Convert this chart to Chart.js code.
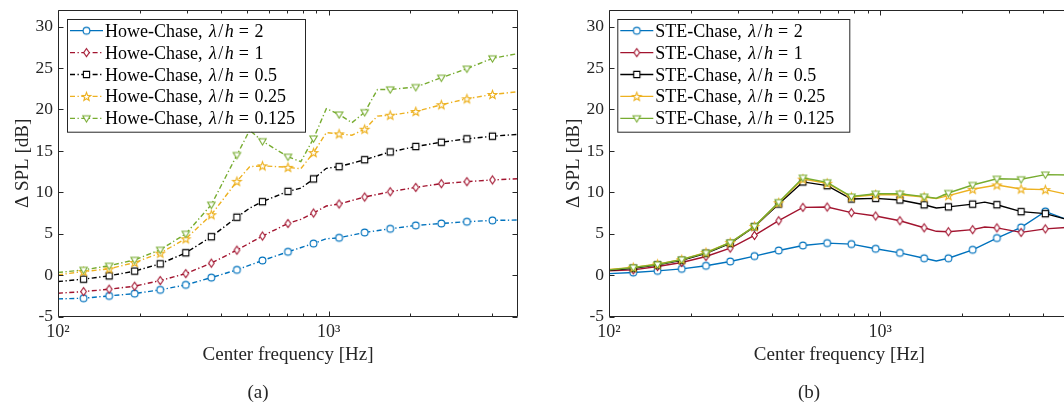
<!DOCTYPE html>
<html>
<head>
<meta charset="utf-8">
<script src="https://cdn.jsdelivr.net/npm/chart.js@4.4.1/dist/chart.umd.min.js"></script>
<style>
  html, body { margin: 0; padding: 0; background: #fff; overflow: hidden; }
  #wrap { position: relative; width: 1064px; height: 406px; overflow: hidden; }
  canvas { position: absolute; top: 0; }
  #chartA { left: 0; }
  #chartB { left: 540px; }
</style>
</head>
<body>
<div id="wrap">
  <canvas id="chartA" width="540" height="406"></canvas>
  <canvas id="chartB" width="540" height="406"></canvas>
</div>
<script>
// centre frequencies [Hz] of the two data grids (markers on every second point)
const freqA = [100, 111.5, 124.3, 138.5, 154.5, 172.2, 191.9, 214, 238.5, 265.9,
  296.4, 330.5, 368.4, 410.7, 457.9, 510.4, 569, 634.3, 707.1, 788.3,
  878.8, 979.6, 1092.1, 1217.5, 1357.3, 1513, 1686.7, 1880.4, 2096.2, 2336.9,
  2605.1, 2904, 3237.5, 3609.1, 4023.5, 4485.3, 5000]
const freqB = [100, 110.8, 122.9, 136.2, 151, 167.3, 185.5, 205.6, 227.9, 252.6,
  280, 310.3, 344, 381.3, 422.6, 468.4, 519.2, 575.5, 637.9, 707.1,
  783.8, 868.8, 963, 1067.4, 1183.2, 1311.4, 1453.6, 1611.3, 1786, 1979.6,
  2194.4, 2432.2, 2696, 2988.3, 3312.4, 3671.6, 4069.7, 4510.9, 5000]

const lambdaLabels = ["2", "1", "0.5", "0.25", "0.125"]

// (a) Howe-Chase, delta SPL [dB]
const howe2 = [-2.85, null, -2.77, null, -2.49, null, -2.21, null, -1.76, null,
  -1.16, null, -0.28, null, 0.65, null, 1.78, null, 2.83, null,
  3.83, 4.4, 4.52, null, 5.16, null, 5.61, null, 6.01, null,
  6.25, null, 6.46, null, 6.62, null, 6.66]
const howe1 = [-2.17, null, -1.97, null, -1.68, null, -1.32, null, -0.64, null,
  0.2, null, 1.46, null, 3.03, null, 4.73, null, 6.25, 6.75,
  7.51, 8.35, 8.6, null, 9.44, null, 10.08, null, 10.6, null,
  11.05, null, 11.29, null, 11.5, null, 11.65]
const howe05 = [-0.76, null, -0.47, null, -0.07, null, 0.5, null, 1.38, null,
  2.71, null, 4.65, null, 7.0, 8.1, 8.88, null, 10.12, 10.5,
  11.62, 12.9, 13.1, null, 13.94, null, 14.88, null, 15.53, null,
  16.05, null, 16.46, null, 16.77, null, 17.0]
const howe025 = [0.05, null, 0.45, null, 0.77, null, 1.54, null, 2.67, null,
  4.4, null, 7.3, null, 11.33, 13.1, 13.2, null, 13.02, 12.85,
  14.8, 17.2, 17.06, 16.9, 17.62, 19.2, 19.31, null, 19.76, null,
  20.57, null, 21.29, null, 21.81, null, 22.14]
const howe0125 = [0.33, null, 0.65, null, 1.14, null, 1.86, null, 3.07, null,
  5.0, null, 8.51, null, 14.5, 17.5, 16.17, null, 14.3, 13.7,
  16.5, 20.1, 19.4, 18.4, 19.67, 22.4, 22.42, null, 22.7, null,
  23.83, null, 24.92, null, 26.17, null, 26.74]

// (b) STE-Chase, delta SPL [dB]
const ste2 = [0.2, null, 0.33, null, 0.53, null, 0.77, null, 1.14, null,
  1.66, null, 2.31, null, 2.99, null, 3.59, null, 3.88, null,
  3.76, null, 3.19, null, 2.7, null, 2.05, 1.72, 2.05, null,
  3.07, null, 4.49, null, 5.77, null, 7.7, null, 6.6]
const ste1 = [0.53, null, 0.65, null, 1.05, null, 1.54, null, 2.26, null,
  3.28, null, 4.8, null, 6.58, null, 8.19, null, 8.23, null,
  7.55, null, 7.15, null, 6.58, null, 5.73, 5.3, 5.25, null,
  5.5, 5.82, 5.72, null, 5.17, null, 5.6, null, 5.8]
const ste05 = [0.6, null, 0.85, null, 1.25, null, 1.8, null, 2.65, null,
  3.85, null, 5.85, null, 8.6, null, 11.26, null, 10.81, null,
  9.2, null, 9.28, null, 9.08, null, 8.5, 8.12, 8.25, null,
  8.58, 8.82, 8.51, null, 7.67, null, 7.43, null, 6.65]
const ste025 = [0.7, null, 0.95, null, 1.35, null, 1.9, null, 2.75, null,
  3.95, null, 5.9, null, 8.75, null, 11.6, null, 11.1, null,
  9.44, null, 9.72, null, 9.72, null, 9.44, 9.24, 9.6, null,
  10.38, null, 10.89, null, 10.41, null, 10.33, null, 9.7]
const ste0125 = [0.65, null, 0.93, null, 1.3, null, 1.9, null, 2.7, null,
  3.95, null, 5.9, null, 8.82, null, 11.77, null, 11.21, null,
  9.5, null, 9.84, null, 9.84, null, 9.48, 9.3, 9.92, null,
  10.89, null, 11.64, null, 11.58, null, 12.14, null, 12.1]

const xMajorTicks = [100, 1000]
const xTickLabels = ["10²", "10³"]
const xMinorTicks = [200, 300, 400, 500, 600, 700, 800, 900, 2000, 3000, 4000]
const yTicks = [-5, 0, 5, 10, 15, 20, 25, 30]

const seriesColors = ["#0072BD", "#A2142F", "#000000", "#EDB120", "#77AC30"]
const markerShapes = ["circle", "diamond", "square", "pentagram", "triangleDown"]
const dashDot = [5, 2.5, 1.3, 2.5]
const axisColor = "#262626"
const serif = '"Liberation Serif", "Times New Roman", serif'
const fontSize = 17.5
const legendFontSize = 18
const titleFontSize = 19
const canvasH = 406
const plotTop = 10
const plotBottom = 316.7

function makeMarker(shape, color) {
  const c = document.createElement("canvas")
  c.width = 13
  c.height = 13
  const g = c.getContext("2d")
  const m = 6.5
  g.strokeStyle = color
  g.fillStyle = "#fff"
  g.lineWidth = 1.1
  g.beginPath()
  if (shape === "circle") {
    g.arc(m, m, 3.4, 0, Math.PI * 2)
  } else if (shape === "square") {
    g.rect(m - 3.1, m - 3.1, 6.2, 6.2)
  } else if (shape === "diamond") {
    g.moveTo(m, m - 4)
    g.lineTo(m + 2.8, m)
    g.lineTo(m, m + 4)
    g.lineTo(m - 2.8, m)
    g.closePath()
  } else if (shape === "pentagram") {
    for (let k = 0; k < 10; k++) {
      const r = k % 2 === 0 ? 4.5 : 1.85
      const a = -Math.PI / 2 + k * Math.PI / 5
      const px = m + r * Math.cos(a)
      const py = m + 0.4 + r * Math.sin(a)
      if (k === 0) g.moveTo(px, py)
      else g.lineTo(px, py)
    }
    g.closePath()
  } else if (shape === "triangleDown") {
    g.moveTo(m - 3.7, m - 2.5)
    g.lineTo(m + 3.7, m - 2.5)
    g.lineTo(m, m + 3.7)
    g.closePath()
  }
  g.fill()
  g.stroke()
  return c
}

const markerImages = seriesColors.map((col, i) => makeMarker(markerShapes[i], col))

function drawLegendLabel(ctx, x, y, prefix, value) {
  const up = `${legendFontSize}px ${serif}`
  const it = `italic ${legendFontSize}px ${serif}`
  ctx.fillStyle = "#000"
  ctx.textAlign = "left"
  ctx.textBaseline = "alphabetic"
  ctx.font = up
  ctx.fillText(prefix + ",", x, y)
  x += ctx.measureText(prefix + ",").width + 6.5
  ctx.font = it
  ctx.fillText("λ", x, y)
  x += ctx.measureText("λ").width + 1.5
  ctx.font = up
  ctx.fillText("/", x, y)
  x += ctx.measureText("/").width + 1.5
  ctx.font = it
  ctx.fillText("h", x, y)
  x += ctx.measureText("h").width + 5
  ctx.font = up
  ctx.fillText("=", x, y)
  x += ctx.measureText("=").width + 5.5
  ctx.fillText(value, x, y)
}

const framePlugin = {
  id: "frame",
  afterDraw(chart, args, opts) {
    const ctx = chart.ctx
    const area = chart.chartArea
    const xs = chart.scales.x
    const ys = chart.scales.y
    const l = Math.round(area.left) + 0.5
    const r = Math.round(area.right) - 0.5
    const t = Math.round(area.top) + 0.5
    const b = Math.round(area.bottom) - 0.5

    ctx.save()
    ctx.strokeStyle = axisColor
    ctx.lineWidth = 1
    ctx.beginPath()
    ctx.rect(l, t, r - l, b - t)
    yTicks.forEach(v => {
      const py = Math.round(ys.getPixelForValue(v)) + 0.5
      ctx.moveTo(l, py); ctx.lineTo(l + 5, py)
      ctx.moveTo(r, py); ctx.lineTo(r - 5, py)
    })
    xMajorTicks.forEach(v => {
      const px = Math.round(xs.getPixelForValue(v)) + 0.5
      ctx.moveTo(px, b); ctx.lineTo(px, b - 5)
      ctx.moveTo(px, t); ctx.lineTo(px, t + 5)
    })
    xMinorTicks.forEach(v => {
      const px = Math.round(xs.getPixelForValue(v)) + 0.5
      ctx.moveTo(px, b); ctx.lineTo(px, b - 3)
      ctx.moveTo(px, t); ctx.lineTo(px, t + 3)
    })
    ctx.stroke()

    // axis titles and sub caption
    ctx.fillStyle = axisColor
    ctx.font = `${titleFontSize}px ${serif}`
    ctx.textAlign = "center"
    ctx.textBaseline = "alphabetic"
    ctx.fillText("Center frequency [Hz]", (area.left + area.right) / 2, 360)
    ctx.fillText(opts.caption, opts.captionX, 398)
    ctx.save()
    ctx.translate(opts.yTitleX, (area.top + area.bottom) / 2)
    ctx.rotate(-Math.PI / 2)
    ctx.fillText("Δ SPL [dB]", 0, 0)
    ctx.restore()

    // legend
    const box = opts.legendBox
    ctx.fillStyle = "#fff"
    ctx.fillRect(box.x, box.y, box.w, box.h)
    ctx.strokeStyle = axisColor
    ctx.lineWidth = 1
    ctx.strokeRect(box.x + 0.5, box.y + 0.5, box.w, box.h)
    lambdaLabels.forEach((lab, i) => {
      const rowY = box.y + 11.7 + i * 21.9
      ctx.strokeStyle = seriesColors[i]
      ctx.lineWidth = 1.3
      ctx.setLineDash(opts.legendDash[i])
      ctx.beginPath()
      ctx.moveTo(box.x + 3, rowY)
      ctx.lineTo(box.x + 36, rowY)
      ctx.stroke()
      ctx.setLineDash([])
      ctx.drawImage(markerImages[i], box.x + 19.5 - 6.5, rowY - 6.5)
      drawLegendLabel(ctx, box.x + 38, rowY + 6, opts.prefix, lab)
    })
    ctx.restore()
  }
}

function buildDatasets(freq, seriesList, dash) {
  return seriesList.map((vals, i) => ({
    data: vals.map((v, j) => ({ x: freq[j], y: v })),
    borderColor: seriesColors[i],
    borderWidth: 1.4,
    borderDash: dash,
    spanGaps: true,
    tension: 0,
    order: seriesList.length - 1 - i,
    pointStyle: markerImages[i],
    pointRadius: c => (c.dataIndex % 2 === 0 && c.dataIndex > 0 && c.dataIndex < vals.length - 1) ? 3 : 0,
    pointHoverRadius: 0
  }))
}

function makeChart(id, freq, seriesList, dash, cfg) {
  const tickFont = { family: serif, size: fontSize }
  return new Chart(document.getElementById(id), {
    type: "line",
    data: { datasets: buildDatasets(freq, seriesList, dash) },
    options: {
      responsive: false,
      animation: false,
      devicePixelRatio: 1,
      layout: { padding: { left: 0, top: plotTop, right: cfg.padRight, bottom: 0 } },
      plugins: {
        legend: { display: false },
        tooltip: { enabled: false },
        frame: cfg.frame
      },
      scales: {
        x: {
          type: "logarithmic",
          min: 100,
          max: 5000,
          grid: { display: false, drawTicks: false },
          border: { display: false },
          afterBuildTicks: s => { s.ticks = xMajorTicks.map(v => ({ value: v })) },
          afterFit: s => {
            s.height = canvasH - plotBottom
            s.paddingLeft = 0
            s.paddingRight = 0
          },
          ticks: {
            autoSkip: false,
            maxRotation: 0,
            padding: 5,
            color: axisColor,
            font: { family: serif, size: 18 },
            callback: v => {
              const k = xMajorTicks.indexOf(v)
              return k >= 0 ? xTickLabels[k] : ""
            }
          }
        },
        y: {
          type: "linear",
          min: -5,
          max: 32,
          grid: { display: false, drawTicks: false },
          border: { display: false },
          afterBuildTicks: s => { s.ticks = yTicks.map(v => ({ value: v })) },
          afterFit: s => {
            s.width = cfg.yWidth
            s.paddingTop = 0
            s.paddingBottom = 0
          },
          ticks: {
            padding: 5,
            color: axisColor,
            font: tickFont,
            callback: v => String(v)
          }
        }
      }
    },
    plugins: [framePlugin]
  })
}

makeChart("chartA", freqA, [howe2, howe1, howe05, howe025, howe0125], dashDot, {
  padRight: 22,
  yWidth: 58,
  frame: {
    prefix: "Howe-Chase",
    legendBox: { x: 67, y: 19, w: 238, h: 112.7 },
    legendDash: [[], dashDot, dashDot, dashDot, dashDot],
    yTitleX: 28,
    caption: "(a)",
    captionX: 258
  }
})

makeChart("chartB", freqB, [ste2, ste1, ste05, ste025, ste0125], [], {
  padRight: 10.4,
  yWidth: 69,
  frame: {
    prefix: "STE-Chase",
    legendBox: { x: 77.3, y: 19, w: 232, h: 112.7 },
    legendDash: [[], [], [], [], []],
    yTitleX: 39,
    caption: "(b)",
    captionX: 269
  }
})
</script>
</body>
</html>
